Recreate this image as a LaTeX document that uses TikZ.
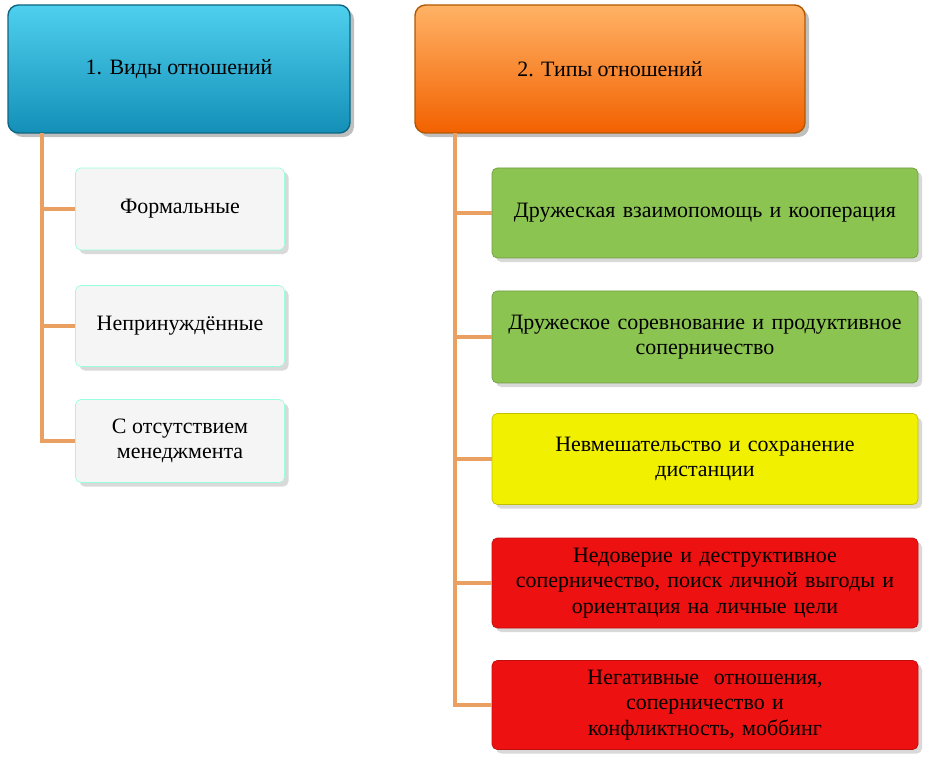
\documentclass[tikz,border=0pt]{standalone}
\usepackage{fontspec}
\setmainfont{Liberation Serif}
\usetikzlibrary{shadows}
\definecolor{linkc}{HTML}{E9A060}
\definecolor{greenf}{HTML}{8CC452}
\definecolor{yellowf}{HTML}{F0F000}
\definecolor{redf}{HTML}{EE1111}
\definecolor{bluet}{HTML}{4FD0EE}
\definecolor{blueb}{HTML}{1490B8}
\tikzset{
  head/.style={rounded corners=6pt, draw=#1!70!black, thick, drop shadow},
  item/.style={rounded corners=3pt, draw=#1!80!black, fill=#1, drop shadow={opacity=0.3}, align=center, text width=8cm},
  leftitem/.style={rounded corners=3pt, draw=green!30!cyan!40, fill=gray!8, align=center, drop shadow={opacity=0.3}},
  link/.style={draw=linkc, line width=1.8pt}
}
\begin{document}
\begin{tikzpicture}[x=0.02cm,y=-0.02cm,font=\fontsize{12.5}{14.5}\selectfont]
\useasboundingbox (0,0) rectangle (930,763);
% headers
\shade[head=blueb, top color=bluet, bottom color=blueb] (8,5) rectangle (350,133);
\node (h1) at (179,69) {1. Виды отношений};
\shade[head=orange, top color=orange!60, bottom color=orange!80!red!95!black] (415,5) rectangle (805,133);
\node (h2) at (610,69) {2. Типы отношений};
% left items
\node[leftitem, minimum width=209*0.02cm, minimum height=82*0.02cm] (l1) at (180,209) {Формальные};
\node[leftitem, minimum width=209*0.02cm, minimum height=81*0.02cm] (l2) at (180,326) {Непринуждённые};
\node[leftitem, minimum width=209*0.02cm, minimum height=83*0.02cm] (l3) at (180,441) {С отсутствием\\менеджмента};
% right items
\node[item=greenf, minimum width=426*0.02cm, minimum height=90*0.02cm] (r1) at (705,213) {Дружеская взаимопомощь и кооперация};
\node[item=greenf, minimum width=426*0.02cm, minimum height=92*0.02cm] (r2) at (705,337) {Дружеское соревнование и продуктивное\\соперничество};
\node[item=yellowf, minimum width=426*0.02cm, minimum height=91*0.02cm] (r3) at (705,459) {Невмешательство и сохранение\\дистанции};
\node[item=redf, minimum width=426*0.02cm, minimum height=90*0.02cm] (r4) at (705,583) {Недоверие и деструктивное\\соперничество, поиск личной выгоды и\\ориентация на личные цели};
\node[item=redf, minimum width=426*0.02cm, minimum height=89*0.02cm] (r5) at (705,705) {Негативные\ \ отношения, соперничество и\\конфликтность, моббинг};
% connectors
\coordinate (t1) at (42,133);
\coordinate (t2) at (455,133);
\draw[link] (t1) |- (l3.west);
\draw[link] (t1 |- l1.west) -- (l1.west);
\draw[link] (t1 |- l2.west) -- (l2.west);
\draw[link] (t2) |- (r5.west);
\foreach \n in {r1,r2,r3,r4}
  \draw[link] (t2 |- \n.west) -- (\n.west);
\end{tikzpicture}
\end{document}
